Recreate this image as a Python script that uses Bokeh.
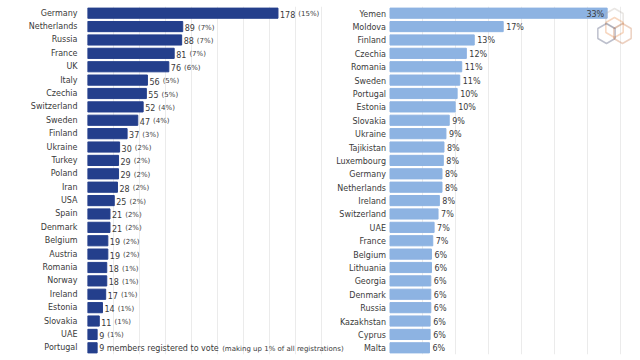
import math
from bokeh.plotting import figure
from bokeh.models import ColumnDataSource, FactorRange, Range1d, Grid, FixedTicker, PolyAnnotation
from bokeh.core.properties import value
from bokeh.embed import file_html
from bokeh.resources import INLINE

# ---- data: registrations by country (left) ----
left_countries = ["Germany", "Netherlands", "Russia", "France", "UK", "Italy", "Czechia",
                  "Switzerland", "Sweden", "Finland", "Ukraine", "Turkey", "Poland", "Iran",
                  "USA", "Spain", "Denmark", "Belgium", "Austria", "Romania", "Norway",
                  "Ireland", "Estonia", "Slovakia", "UAE", "Portugal"]
left_counts = [178, 89, 88, 81, 76, 56, 55, 52, 47, 37, 30, 29, 29, 28, 25, 21, 21, 19, 19,
               18, 18, 17, 14, 11, 9, 9]
left_pcts = ["15%", "7%", "7%", "7%", "6%", "5%", "5%", "4%", "4%", "3%", "2%", "2%", "2%",
             "2%", "2%", "2%", "2%", "2%", "2%", "1%", "1%", "1%", "1%", "1%", "1%", "1%"]

# ---- data: share of members registered (right) ----
right_countries = ["Yemen", "Moldova", "Finland", "Czechia", "Romania", "Sweden", "Portugal",
                   "Estonia", "Slovakia", "Ukraine", "Tajikistan", "Luxembourg", "Germany",
                   "Netherlands", "Ireland", "Switzerland", "UAE", "France", "Belgium",
                   "Lithuania", "Georgia", "Denmark", "Russia", "Kazakhstan", "Cyprus", "Malta"]
right_shares = [33.0, 17.2, 12.8, 11.6, 10.9, 10.6, 10.2, 9.9, 9.0, 8.5, 8.2, 8.1, 7.9, 7.9,
                7.5, 7.3, 6.7, 6.5, 6.3, 6.3, 6.2, 6.2, 6.2, 6.1, 6.1, 6.0]
right_labels = ["33%", "17%", "13%", "12%", "11%", "11%", "10%", "10%", "9%", "9%", "8%", "8%",
                "8%", "8%", "8%", "7%", "7%", "7%", "6%", "6%", "6%", "6%", "6%", "6%", "6%", "6%"]

portugal_main = "9 members registered to vote"
portugal_note = "(making up 1% of all registrations)"

FONT = value("DejaVu Sans")
FS = "8px"
FS_SMALL = "7px"
TXT = "#3a3a3a"
NAVY = "#243f8c"
LIGHT = "#8db3e2"

p = figure(width=640, height=360, output_backend="svg", toolbar_location=None,
           x_range=Range1d(0, 509.3), y_range=FactorRange(factors=left_countries[::-1]),
           min_border_left=87, min_border_right=8, min_border_top=6, min_border_bottom=6)
p.extra_x_ranges = {"right": Range1d(-45.97, 36.85)}
p.extra_y_ranges = {"right": FactorRange(factors=right_countries[::-1])}
p.xaxis.visible = False
p.xgrid.visible = False
p.ygrid.visible = False
p.outline_line_color = None
p.background_fill_color = "white"

ya = p.yaxis[0]
ya.axis_line_color = None
ya.major_tick_line_color = None
ya.minor_tick_line_color = None
ya.major_label_text_font = "DejaVu Sans"
ya.major_label_text_font_size = FS
ya.major_label_text_color = TXT
ya.major_label_standoff = 4

# faint vertical grid lines
p.add_layout(Grid(dimension=0, ticker=FixedTicker(ticks=[24.3 * k for k in range(1, 10)]),
                  grid_line_color="#ebebeb", grid_line_width=1))
p.add_layout(Grid(dimension=0, x_range_name="right",
                  ticker=FixedTicker(ticks=[5, 10, 15, 20, 25, 30, 35]),
                  grid_line_color="#ebebeb", grid_line_width=1))

# ---- left panel ----
n = len(left_countries)
main_idx = [i for i in range(n) if left_countries[i] != "Portugal"]
lsrc = ColumnDataSource(dict(country=left_countries, count=left_counts))
p.hbar(y="country", left=0, right="count", height=0.76, color=NAVY, source=lsrc)

lab = ColumnDataSource(dict(
    country=[left_countries[i] for i in main_idx],
    count=[left_counts[i] for i in main_idx],
    num=[str(left_counts[i]) for i in main_idx],
    pct=["(" + left_pcts[i] + ")" for i in main_idx],
    poff=[2 + 5.1 * len(str(left_counts[i])) + 3 for i in main_idx],
))
p.text(x="count", y="country", text="num", x_offset=2, y_offset=1, text_align="left",
       text_baseline="middle", text_font=FONT, text_font_size=FS, text_color=TXT,
       source=lab)
p.text(x="count", y="country", text="pct", x_offset="poff", y_offset=1, text_align="left",
       text_baseline="middle", text_font=FONT, text_font_size=FS_SMALL, text_color=TXT,
       source=lab)

pi = left_countries.index("Portugal")
psrc = ColumnDataSource(dict(country=[left_countries[pi]], count=[left_counts[pi]],
                             main=[portugal_main], note=[portugal_note]))
p.text(x="count", y="country", text="main", x_offset=2, y_offset=1, text_align="left",
       text_baseline="middle", text_font=FONT, text_font_size=FS, text_color=TXT,
       source=psrc)
p.text(x="count", y="country", text="note", x_offset=125, y_offset=1, text_align="left",
       text_baseline="middle", text_font=FONT, text_font_size=FS_SMALL, text_color=TXT,
       source=psrc)

# ---- right panel ----
rsrc = ColumnDataSource(dict(country=right_countries, share=right_shares, label=right_labels))
p.hbar(y="country", left=0, right="share", height=0.76, color=LIGHT, source=rsrc,
       x_range_name="right", y_range_name="right")
p.text(x=0, y="country", text="country", x_offset=-4, y_offset=1, text_align="right",
       text_baseline="middle", text_font=FONT, text_font_size=FS, text_color=TXT,
       source=rsrc, x_range_name="right", y_range_name="right")

inside = [i for i, s in enumerate(right_shares) if s >= 30]
outside = [i for i, s in enumerate(right_shares) if s < 30]
src_out = ColumnDataSource(dict(country=[right_countries[i] for i in outside],
                                share=[right_shares[i] for i in outside],
                                label=[right_labels[i] for i in outside]))
src_in = ColumnDataSource(dict(country=[right_countries[i] for i in inside],
                               share=[right_shares[i] for i in inside],
                               label=[right_labels[i] for i in inside]))
p.text(x="share", y="country", text="label", x_offset=3, y_offset=1, text_align="left",
       text_baseline="middle", text_font=FONT, text_font_size=FS, text_color=TXT,
       source=src_out, x_range_name="right", y_range_name="right")
p.text(x="share", y="country", text="label", x_offset=-3, y_offset=1, text_align="right",
       text_baseline="middle", text_font=FONT, text_font_size=FS, text_color=TXT,
       source=src_in, x_range_name="right", y_range_name="right")

# ---- logo (decorative hexagons, screen units relative to the plot frame, y upward) ----
FRAME_H = 348

def hexagon(cx, cy, r):
    xs, ys = [], []
    for k in range(6):
        a = math.radians(90 + 60 * k)
        xs.append(cx + r * math.cos(a))
        ys.append(FRAME_H - (cy - r * math.sin(a)))
    return xs, ys

for (cx, cy, col) in [(527, 12, "#b5aca3"), (527, 21, "#e57a2e"),
                      (519, 27, "#252d5a"), (535, 27, "#c0642e")]:
    xs, ys = hexagon(cx, cy, 10)
    p.add_layout(PolyAnnotation(xs=xs, ys=ys, xs_units="screen", ys_units="screen",
                                fill_alpha=0, line_color=col, line_width=1.5))

open("out.html", "w").write(file_html(p, INLINE))
